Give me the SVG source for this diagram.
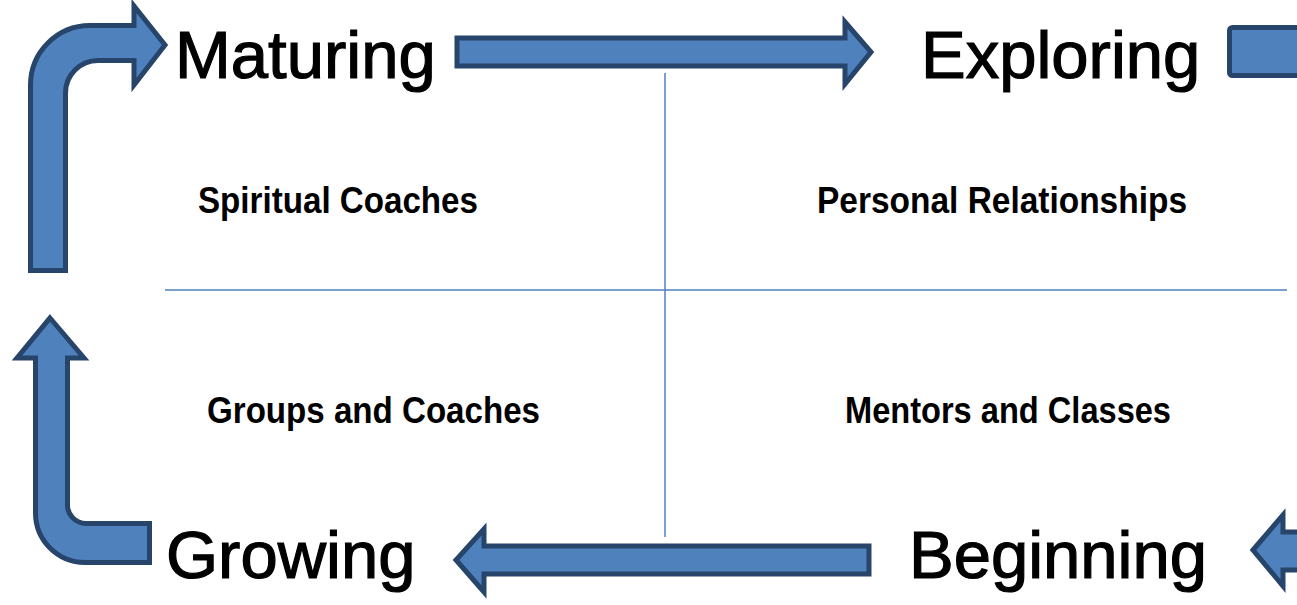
<svg xmlns="http://www.w3.org/2000/svg" width="1297" height="605" viewBox="0 0 1297 605">
<style>
.arr{fill:#4F81BD;stroke:#27456B;stroke-width:5;stroke-linejoin:miter}
.big{font-family:"Liberation Sans",Arial,sans-serif;font-size:67px;fill:#000;stroke:#000;stroke-width:1.2}
.small{font-family:"Liberation Sans Narrow","Liberation Sans",Arial,sans-serif;font-size:36px;font-weight:bold;fill:#000}
.grid{stroke:#4F81BD;stroke-width:1.5;fill:none}
</style>
<rect width="1297" height="605" fill="#fff"/>
<g id="connectors">
<path class="arr" d="M457,38 L845,38 L845,22 L871,52 L845,84 L845,66 L457,66 Z"/>
<path class="arr" d="M869,546 L484,546 L484,529 L456,560 L484,592 L484,574 L869,574 Z"/>
<path class="arr" d="M30.5,270.5 L30.5,85 A59.5,59.5 0 0 1 90,25.5 L134,25.5 L134,6 L165,45 L134,85 L134,60.5 L98,60.5 A32.5,32.5 0 0 0 65.5,93 L65.5,270.5 Z"/>
<path class="arr" d="M50,318 L84,358 L67.5,358 L67.5,505 A18.5,18.5 0 0 0 86,523.5 L149.5,523.5 L149.5,562.5 L85,562.5 A49.5,49.5 0 0 1 35.5,513 L35.5,358 L17,358 Z"/>
<rect class="arr" x="1229.5" y="27.5" width="80" height="48" rx="3"/>
<path class="arr" d="M1253,550 L1283,515 L1283,532 L1310,532 L1310,570 L1283,570 L1283,586 Z"/>
</g>
<g id="grid">
<line class="grid" x1="165" y1="290" x2="1287" y2="290"/>
<line class="grid" x1="665" y1="73" x2="665" y2="537"/>
</g>
<g id="maturing"><text class="big" x="175" y="78">Maturing</text></g>
<g id="exploring"><text class="big" x="921" y="78">Exploring</text></g>
<g id="growing"><text class="big" x="166" y="578">Growing</text></g>
<g id="beginning"><text class="big" x="909" y="578">Beginning</text></g>
<g id="spiritual-coaches"><text class="small" x="198" y="213" textLength="280" lengthAdjust="spacingAndGlyphs">Spiritual Coaches</text></g>
<g id="personal-relationships"><text class="small" x="817" y="213" textLength="370" lengthAdjust="spacingAndGlyphs">Personal Relationships</text></g>
<g id="groups-and-coaches"><text class="small" x="207" y="423" textLength="333" lengthAdjust="spacingAndGlyphs">Groups and Coaches</text></g>
<g id="mentors-and-classes"><text class="small" x="845" y="423" textLength="326" lengthAdjust="spacingAndGlyphs">Mentors and Classes</text></g>
</svg>
